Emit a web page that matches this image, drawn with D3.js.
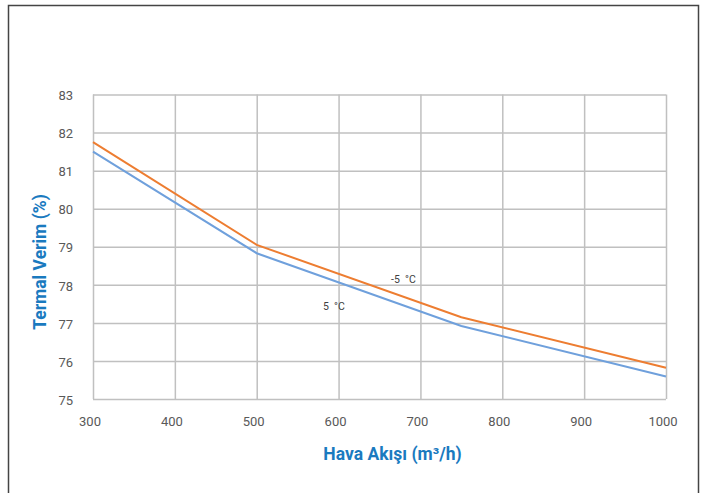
<!DOCTYPE html>
<html><head><meta charset="utf-8">
<script src="https://cdn.jsdelivr.net/npm/d3@7"></script>
<style>body{margin:0;background:#fff}svg{display:block}</style>
</head><body><div id="chart"></div>
<script>
const airflow = [300, 500, 750, 1000];
const seriesMinus5 = [81.75, 79.05, 77.15, 75.82];
const series5 = [81.5, 78.83, 76.92, 75.59];
const seriesNames = ["-5  °C", "5  °C"];
const xTicks = [300, 400, 500, 600, 700, 800, 900, 1000];
const yTicks = [75, 76, 77, 78, 79, 80, 81, 82, 83];
const xTitle = "Hava Akışı (m³/h)";
const yTitle = "Termal Verim (%)";

const W = 704, H = 493;
const svg = d3.select("#chart").append("svg").attr("width", W).attr("height", H);
svg.append("rect").attr("x", 8.5).attr("y", 5.5).attr("width", 690).attr("height", 500)
  .attr("fill", "none").attr("stroke", "#444").attr("stroke-width", 1.5);

const x = d3.scaleLinear().domain([300, 1000]).range([93, 666]);
const y = d3.scaleLinear().domain([75, 83]).range([399, 94.5]);
const grid = "#c0c0c0", tickCol = "#595959", font = "Roboto, 'DejaVu Sans', sans-serif";

svg.append("g").attr("transform", "translate(0,399)")
  .call(d3.axisBottom(x).tickValues(xTicks).tickSize(-(399 - 94.5)).tickFormat(d3.format("d")))
  .call(g => { g.select(".domain").remove();
    g.selectAll("line").attr("stroke", grid).attr("stroke-width", 1.5);
    g.selectAll("text").attr("fill", tickCol).attr("font-family", font).attr("font-size", 13)
      .attr("dy", null).attr("y", 27).attr("x", -3.5); });
svg.append("g").attr("transform", "translate(93,0)")
  .call(d3.axisLeft(y).tickValues(yTicks).tickSize(-(666 - 93)).tickFormat(d3.format("d")))
  .call(g => { g.select(".domain").remove();
    g.selectAll("line").attr("stroke", grid).attr("stroke-width", 1.5);
    g.selectAll("text").attr("fill", tickCol).attr("font-family", font).attr("font-size", 13)
      .attr("x", -20).attr("dy", "0.4em"); });

const line = d3.line().x((d, i) => x(airflow[i])).y(d => y(d));
svg.append("path").datum(series5).attr("d", line).attr("fill", "none")
  .attr("stroke", "#6fa0dc").attr("stroke-width", 2);
svg.append("path").datum(seriesMinus5).attr("d", line).attr("fill", "none")
  .attr("stroke", "#ed7d31").attr("stroke-width", 2);

svg.append("text").attr("x", 391).attr("y", 283).text(seriesNames[0])
  .attr("font-family", font).attr("font-size", 10.5).attr("fill", "#404040").style("white-space", "pre");
svg.append("text").attr("x", 323).attr("y", 310).text(seriesNames[1])
  .attr("font-family", font).attr("font-size", 10.5).attr("fill", "#404040").style("white-space", "pre");

svg.append("text").attr("x", 392.5).attr("y", 460).attr("text-anchor", "middle").text(xTitle)
  .attr("font-family", font).attr("font-weight", "bold").attr("font-size", 17.5).attr("fill", "#1a7abf");
svg.append("text").attr("transform", "translate(46,262) rotate(-90)").attr("text-anchor", "middle").text(yTitle)
  .attr("font-family", font).attr("font-weight", "bold").attr("font-size", 17.5).attr("fill", "#1a7abf");
</script></body></html>
